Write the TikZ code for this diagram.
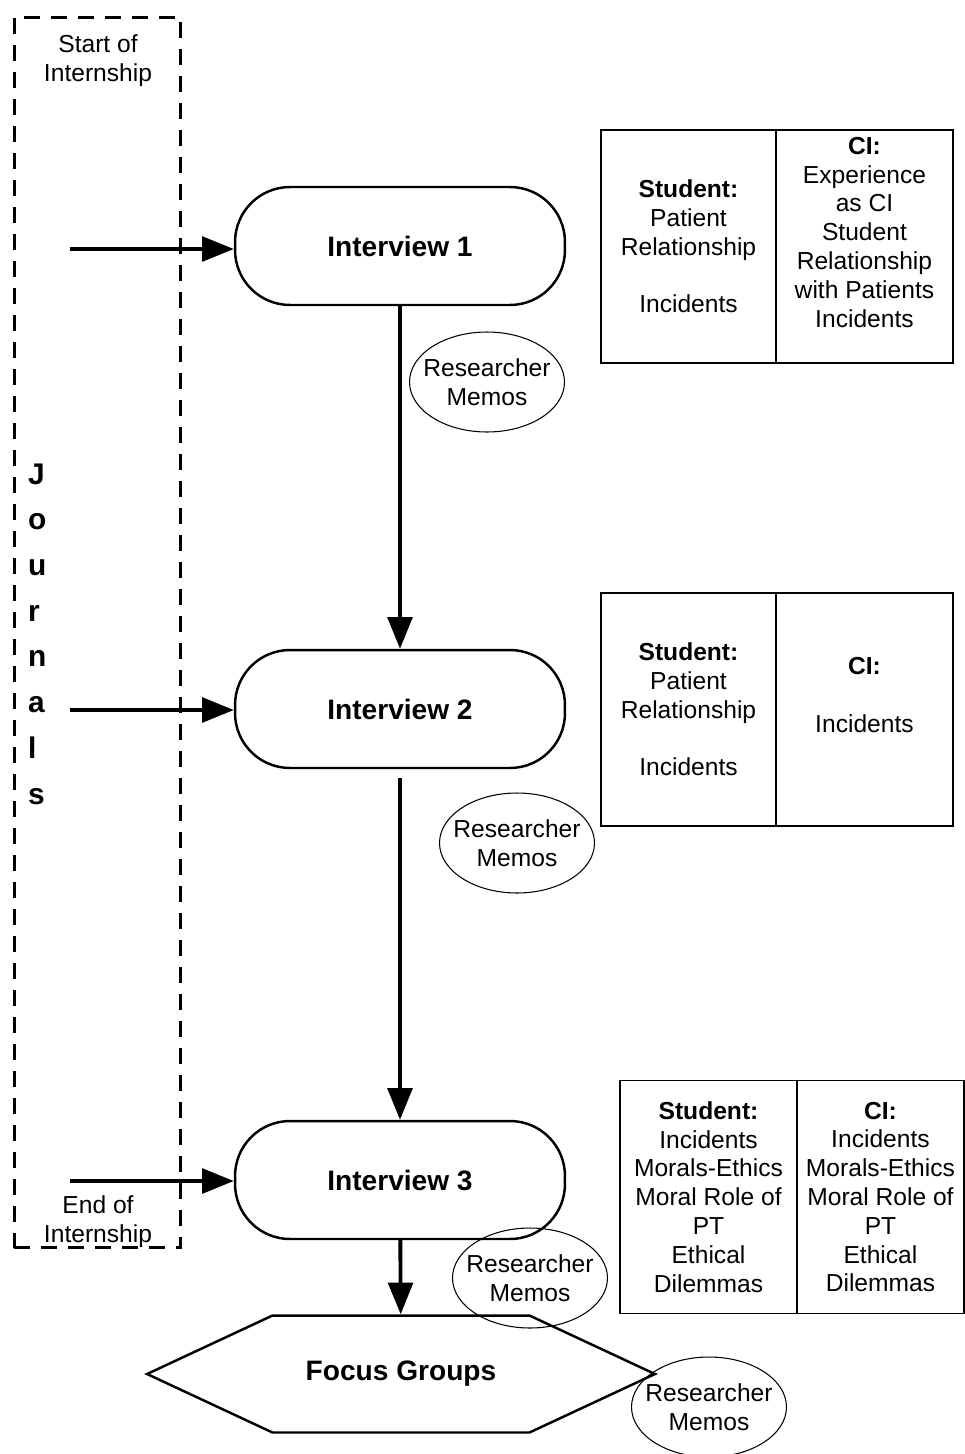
\documentclass[tikz,border=0pt]{standalone}
\usepackage{fontspec}
\setmainfont{Liberation Sans}
\usetikzlibrary{arrows.meta,positioning,shapes.geometric,shapes.symbols}

\begin{document}
\begin{tikzpicture}[
  x=0.02cm, y=-0.02cm,
  font=\fontsize{14}{16.4}\selectfont,
  stage/.style={draw, line width=1.4pt, rounded corners=1.1cm, minimum width=6.6cm, minimum height=2.36cm, font=\fontsize{16}{19}\selectfont\bfseries},
  memo/.style={draw, ellipse, line width=0.6pt, minimum width=3.1cm, minimum height=2cm, inner xsep=-0.25cm, inner ysep=0pt, align=center},
  cell/.style={draw, line width=0.8pt, minimum height=4.66cm, inner sep=0pt, outer sep=0pt, align=center},
  phase/.style={align=center},
  arr/.style={-{Triangle[length=18pt, width=14pt]}, line width=2.2pt}
]
\useasboundingbox (0,0) rectangle (964,1454);
% journals frame
\node[draw, line width=1.7pt, dash pattern=on 0.32cm off 0.22cm, minimum width=3.34cm, minimum height=24.62cm, inner sep=0pt] (frame) at (97.5,632.5) {};
\node[phase] (start) at (98,61) {Start of\\Internship};
\node[phase] (end) at (98,1222) {End of\\Internship};
\node[font=\fontsize{17}{26}\selectfont\bfseries, align=left, anchor=west] (jr) at (22,634) {J\\o\\u\\r\\n\\a\\l\\s};

% interviews
\node[stage] (i1) at (400,246) {Interview 1};
\node[stage] (i2) at (400,709) {Interview 2};
\node[stage] (i3) at (400,1180) {Interview 3};
\node[signal, signal to=east and west, signal pointer angle=50, draw, line width=1.4pt, minimum width=10.16cm, minimum height=2.34cm, font=\fontsize{16}{19}\selectfont\bfseries] (fg) at (401,1374) {Focus Groups};

% memos
\node[memo] (m1) at (487,382) {Researcher\\Memos};
\node[memo] (m2) at (517,843) {Researcher\\Memos};
\node[memo] (m3) at (530,1278) {Researcher\\Memos};
\node[memo] (m4) at (709,1407) {Researcher\\Memos};

% tables
\node[cell, minimum width=3.5cm] (s1) at (688.5,246.5) {\textbf{Student:}\\Patient\\Relationship\\\mbox{}\\Incidents};
\node[cell, minimum width=3.54cm, right=0pt of s1] (c1) {\textbf{CI:}\\Experience\\as CI\\Student\\Relationship\\with Patients\\Incidents\\\mbox{}};
\node[cell, minimum width=3.5cm] (s2) at (688.5,709.5) {\textbf{Student:}\\Patient\\Relationship\\\mbox{}\\Incidents};
\node[cell, minimum width=3.54cm, right=0pt of s2] (c2) {\textbf{CI:}\\\mbox{}\\Incidents\\\mbox{}};
\node[cell, minimum width=3.54cm] (s3) at (708.5,1197) {\textbf{Student:}\\Incidents\\Morals-Ethics\\Moral Role of\\PT\\Ethical\\Dilemmas};
\node[cell, minimum width=3.34cm, right=0pt of s3] (c3) {\textbf{CI:}\\Incidents\\Morals-Ethics\\Moral Role of\\PT\\Ethical\\Dilemmas};

% journal inputs
\coordinate (j1) at (70,249);
\coordinate (j2) at (70,710);
\coordinate (j3) at (70,1181);
\draw[arr] (j1) -- (j1 -| i1.west);
\draw[arr] (j2) -- (j2 -| i2.west);
\draw[arr] (j3) -- (j3 -| i3.west);

% flow
\draw[arr] (i1) -- (i2);
\draw[arr, shorten <=0.18cm] (i2) -- (i3);
\draw[arr] (i3) -- (fg);
\end{tikzpicture}
\end{document}
